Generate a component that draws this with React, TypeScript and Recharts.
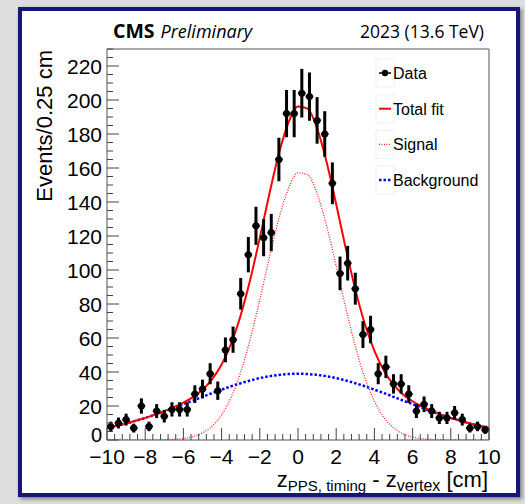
import React from "react"
import {
  ComposedChart,
  Line,
  Scatter,
  ErrorBar,
  XAxis,
  YAxis,
  ReferenceArea,
} from "recharts"

// bin centres (cm), 0.4 cm wide bins
const binCenters = [
  -9.8, -9.4, -9.0, -8.6, -8.2, -7.8, -7.4, -7.0, -6.6, -6.2,
  -5.8, -5.4, -5.0, -4.6, -4.2, -3.8, -3.4, -3.0, -2.6, -2.2,
  -1.8, -1.4, -1.0, -0.6, -0.2, 0.2, 0.6, 1.0, 1.4, 1.8,
  2.2, 2.6, 3.0, 3.4, 3.8, 4.2, 4.6, 5.0, 5.4, 5.8,
  6.2, 6.6, 7.0, 7.4, 7.8, 8.2, 8.6, 9.0, 9.4, 9.8,
]

const counts = [
  8, 10, 12, 7, 20, 8, 17, 14, 18, 18,
  18, 27, 30, 39, 29, 53, 59, 86, 109, 126,
  119, 122, 165, 192, 192, 204, 202, 188, 180, 151,
  98, 104, 89, 62, 65, 39, 43, 33, 33, 27,
  17, 21, 17, 13, 13, 16, 12, 7, 8, 6,
]

const countErrors = [
  2.8, 3.2, 3.5, 2.6, 4.5, 2.8, 4.1, 3.7, 4.2, 4.2,
  4.2, 5.2, 5.5, 6.2, 5.4, 7.3, 7.7, 9.3, 10.4, 11.2,
  10.9, 11.0, 12.8, 13.9, 13.9, 14.3, 14.2, 13.7, 13.4, 12.3,
  9.9, 10.2, 9.4, 7.9, 8.1, 6.2, 6.6, 5.7, 5.7, 5.2,
  4.1, 4.6, 4.1, 3.6, 3.6, 4.0, 3.5, 2.6, 2.8, 2.4,
]

const BIN_HALF_WIDTH = 0.2

// fit curves sampled every 0.5 cm
const fitX = [
  -10, -9.5, -9, -8.5, -8, -7.5, -7, -6.5, -6, -5.5,
  -5, -4.5, -4, -3.5, -3, -2.5, -2, -1.5, -1, -0.5,
  0, 0.5, 1, 1.5, 2, 2.5, 3, 3.5, 4, 4.5,
  5, 5.5, 6, 6.5, 7, 7.5, 8, 8.5, 9, 9.5, 10,
]

const totalFit = [
  7.0, 8.3, 9.7, 11.3, 13.0, 14.9, 17.0, 19.3, 22.0, 25.2,
  29.6, 35.7, 44.4, 56.7, 73.4, 94.4, 118.9, 144.7, 168.5, 186.7,
  196.2, 194.9, 183.3, 163.4, 138.7, 112.7, 88.6, 68.2, 52.4, 40.8,
  32.6, 26.8, 22.8, 19.7, 17.1, 14.9, 13.0, 11.3, 9.7, 8.3, 7.0,
]

const signalFit = [
  0, 0, 0, 0, 0, 0.1, 0.15, 0.4, 0.9, 2.0,
  4.2, 8.1, 14.8, 25.1, 40.0, 59.4, 82.5, 107.2, 130.2, 147.9,
  157.2, 156.1, 145.0, 125.9, 102.3, 77.7, 55.2, 36.6, 22.8, 13.2,
  7.2, 3.6, 1.7, 0.8, 0.3, 0.1, 0, 0, 0, 0, 0,
]

const backgroundFit = [
  7.0, 8.3, 9.7, 11.3, 13.0, 14.8, 16.8, 18.9, 21.1, 23.2,
  25.4, 27.6, 29.6, 31.6, 33.4, 35.0, 36.4, 37.5, 38.3, 38.8,
  39.0, 38.8, 38.3, 37.5, 36.4, 35.0, 33.4, 31.6, 29.6, 27.6,
  25.4, 23.2, 21.1, 18.9, 16.8, 14.8, 13.0, 11.3, 9.7, 8.3, 7.0,
]

const xMajorTicks = [-10, -8, -6, -4, -2, 0, 2, 4, 6, 8, 10]
const yMajorTicks = [0, 20, 40, 60, 80, 100, 120, 140, 160, 180, 200, 220]

const legendItems = [
  { label: "Data", kind: "data" },
  { label: "Total fit", kind: "total" },
  { label: "Signal", kind: "signal" },
  { label: "Background", kind: "background" },
]

const points = binCenters.map((x, i) => ({
  x,
  y: counts[i],
  yErr: countErrors[i],
  xErr: BIN_HALF_WIDTH,
}))

const curves = fitX.map((x, i) => ({
  x,
  total: totalFit[i],
  signal: signalFit[i],
  background: backgroundFit[i],
}))

// minor ticks: 5 divisions per major on both axes
const xTicks: number[] = []
for (let k = 0; k <= 50; k++) xTicks.push(Math.round((-10 + k * 0.4) * 10) / 10)
const yTicks: number[] = []
for (let k = 0; k <= 46; k++) yTicks.push(k * 5)

const AXIS_FONT = "'Liberation Sans', Arial, Helvetica, sans-serif"
const TICK_COLOR = "#444"

function XTick(props: any) {
  const { x, y, payload } = props
  const v = payload.value
  const major = xMajorTicks.some((t) => Math.abs(t - v) < 1e-6)
  return (
    <g>
      <line x1={x} x2={x} y1={y} y2={y - (major ? 12 : 6)} stroke={TICK_COLOR} strokeWidth={1} />
      {major && (
        <text x={x} y={y + 23.5} textAnchor="middle" fontSize={21} fontFamily={AXIS_FONT} fill="#000">
          {v < 0 ? `\u2212${-v}` : `${v}`}
        </text>
      )}
    </g>
  )
}

function YTick(props: any) {
  const { x, y, payload } = props
  const v = payload.value
  const major = yMajorTicks.includes(v)
  return (
    <g>
      <line x1={x} x2={x + (major ? 12 : 6)} y1={y} y2={y} stroke={TICK_COLOR} strokeWidth={1} />
      {major && (
        <text
          x={x - 5}
          y={y + (v === 0 ? 2 : 7.5)}
          textAnchor="end"
          fontSize={v === 0 ? 20 : 21}
          fontFamily={AXIS_FONT}
          fill="#000"
        >
          {v}
        </text>
      )}
    </g>
  )
}

function LegendMarker({ kind, y }: { kind: string; y: number }) {
  const x1 = 379
  const x2 = 391
  if (kind === "data") {
    return (
      <g>
        <line x1={x1} x2={x2} y1={y} y2={y} stroke="#000" strokeWidth={1.5} />
        <circle cx={385} cy={y} r={3.2} fill="#000" />
      </g>
    )
  }
  if (kind === "total") return <line x1={x1} x2={x2} y1={y} y2={y} stroke="#ff0000" strokeWidth={2} />
  if (kind === "signal")
    return <line x1={x1} x2={x2} y1={y} y2={y} stroke="#ff2020" strokeWidth={1.3} strokeDasharray="1 1.5" />
  return <line x1={x1} x2={x2} y1={y} y2={y} stroke="#0000ff" strokeWidth={2.5} strokeDasharray="2.5 2" />
}

export default function App() {
  return (
    <div style={{ position: "absolute", left: 0, top: 0, width: 525, height: 504, background: "#dedede", overflow: "hidden" }}>
      {/* framed slide panel */}
      <div
        style={{
          position: "absolute",
          left: 18,
          top: 7,
          width: 502,
          height: 490,
          boxSizing: "border-box",
          border: "4px solid #15157a",
          background: "#fff",
          boxShadow: "2px 2px 4px rgba(0,0,0,0.45)",
        }}
      />

      <div style={{ position: "absolute", left: 0, top: 0 }}>
        <ComposedChart width={525} height={504} margin={{ top: 49, right: 36, bottom: 0, left: 0 }}>
          <XAxis
            type="number"
            dataKey="x"
            domain={[-10, 10]}
            ticks={xTicks}
            interval={0}
            height={64}
            tickSize={0}
            tickMargin={0}
            axisLine={false}
            tick={<XTick />}
            allowDataOverflow
          />
          <YAxis
            type="number"
            domain={[0, 230]}
            ticks={yTicks}
            interval={0}
            width={107}
            tickSize={0}
            tickMargin={0}
            axisLine={false}
            tick={<YTick />}
            allowDataOverflow
          />
          <ReferenceArea x1={-10} x2={10} y1={0} y2={230} fill="none" fillOpacity={0} stroke="#555" strokeWidth={1} />
          <Line
            data={curves}
            dataKey="background"
            type="monotone"
            stroke="#0000ff"
            strokeWidth={2.5}
            strokeDasharray="2.5 2"
            dot={false}
            activeDot={false}
            isAnimationActive={false}
          />
          <Line
            data={curves}
            dataKey="signal"
            type="monotone"
            stroke="#ff2020"
            strokeWidth={1.3}
            strokeDasharray="1 1.5"
            dot={false}
            activeDot={false}
            isAnimationActive={false}
          />
          <Line
            data={curves}
            dataKey="total"
            type="monotone"
            stroke="#ff0000"
            strokeWidth={2}
            dot={false}
            activeDot={false}
            isAnimationActive={false}
          />
          <Scatter
            data={points}
            dataKey="y"
            fill="#000"
            isAnimationActive={false}
            shape={(p: any) => <circle cx={p.cx} cy={p.cy} r={3.5} fill="#000" />}
          >
            <ErrorBar dataKey="yErr" direction="y" width={0} stroke="#000" strokeWidth={3} />
            <ErrorBar dataKey="xErr" direction="x" width={0} stroke="#000" strokeWidth={2} />
          </Scatter>
        </ComposedChart>
      </div>

      {/* titles, axis titles and legend */}
      <svg width={525} height={504} style={{ position: "absolute", left: 0, top: 0, pointerEvents: "none" }}>
        <text x={113} y={38} fontFamily="'Open Sans', sans-serif" fill="#000">
          <tspan fontSize={19.5} fontWeight={700}>CMS</tspan>
          <tspan fontSize={18} fontStyle="italic" dx={6}>Preliminary</tspan>
        </text>
        <text x={484} y={38} textAnchor="end" fontSize={17.5} fontFamily="'Open Sans', sans-serif" fill="#000">
          2023 (13.6 TeV)
        </text>

        <text
          transform="translate(52, 50) rotate(-90)"
          textAnchor="end"
          fontSize={22}
          fontFamily={AXIS_FONT}
          fill="#000"
        >
          Events/0.25 cm
        </text>

        <text x={488} y={487} textAnchor="end" fontSize={22} fontFamily={AXIS_FONT} fill="#000">
          z<tspan fontSize={15} dy={3.5}>PPS, timing</tspan>
          <tspan dy={-3.5}> - z</tspan>
          <tspan fontSize={16} dy={3.5}>vertex</tspan>
          <tspan dy={-3.5}> [cm]</tspan>
        </text>

        {legendItems.map((item, i) => {
          const y = 73 + i * 35.7
          return (
            <g key={item.label}>
              <rect x={376} y={y - 14} width={18} height={28} fill="none" stroke="#f0f0f0" />
              <LegendMarker kind={item.kind} y={y} />
              <text x={393} y={y + 6} fontSize={16} fontFamily={AXIS_FONT} fill="#000">
                {item.label}
              </text>
            </g>
          )
        })}
      </svg>
    </div>
  )
}
